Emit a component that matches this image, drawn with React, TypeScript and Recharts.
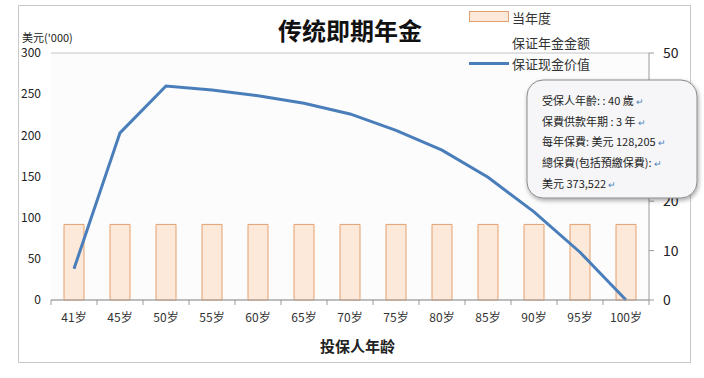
import { ComposedChart, Bar, Line, XAxis, YAxis, CartesianGrid } from 'recharts';

const ages = ['41岁', '45岁', '50岁', '55岁', '60岁', '65岁', '70岁', '75岁', '80岁', '85岁', '90岁', '95岁', '100岁'];
// 当年度保证年金金额 (right axis)
const annuity = [15.3, 15.3, 15.3, 15.3, 15.3, 15.3, 15.3, 15.3, 15.3, 15.3, 15.3, 15.3, 15.3];
// 保证现金价值, 美元('000) (left axis)
const cashValue = [38, 203, 260, 255, 248, 239, 226, 206, 182, 149, 107, 58, 0];
const leftTicks = [0, 50, 100, 150, 200, 250, 300];
const rightTicks = [0, 10, 20, 30, 40, 50];
const noteLines = ['受保人年齡: :  40 歲', '保費供款年期 : 3 年', '每年保費: 美元 128,205', '總保費(包括預繳保費):', '美元 373,522'];

const chartData = ages.map((age, i) => ({ age, annuity: annuity[i], cash: cashValue[i] }));

const FONT = '"Noto Sans CJK SC", "Liberation Sans", sans-serif';
const BAND = 598 / ages.length;

const XTick = (props: any) => {
  const { x, y, payload, index } = props;
  return (
    <g>
      <line x1={x - BAND / 2} x2={x - BAND / 2} y1={300} y2={305} stroke="#9a9a9a" />
      {index === ages.length - 1 && (
        <line x1={x + BAND / 2} x2={x + BAND / 2} y1={300} y2={305} stroke="#9a9a9a" />
      )}
      <text x={x} y={y + 14} textAnchor="middle" fontSize={12} fill="#333" fontFamily={FONT}>
        {payload.value}
      </text>
    </g>
  );
};

export default function App() {
  return (
    <div style={{ position: 'absolute', left: 0, top: 0, width: 704, height: 378, background: '#fff' }}>
      <svg width={704} height={378} style={{ position: 'absolute', left: 0, top: 0 }}>
        <rect x={18.5} y={5.5} width={672} height={357} fill="#fff" stroke="#c8c8c8" />
      </svg>
      <div style={{ position: 'absolute', left: 0, top: 0 }}>
        <ComposedChart width={704} height={378} data={chartData} margin={{ top: 53, right: 0, bottom: 48, left: 0 }} barGap={0}>
          <CartesianGrid vertical={false} stroke="#c4c4c4" fill="#fcfcfd" />
          <XAxis
            dataKey="age"
            height={30}
            axisLine={{ stroke: '#9a9a9a' }}
            tickLine={false}
            interval={0}
            tick={<XTick />}
          />
          <YAxis
            yAxisId="left"
            width={51}
            domain={[0, 300]}
            ticks={leftTicks}
            axisLine={false}
            tickLine={false}
            tickMargin={4}
            tick={{ fontSize: 12, fill: '#222', fontFamily: FONT }}
          />
          <YAxis
            yAxisId="right"
            orientation="right"
            width={55}
            domain={[0, 50]}
            ticks={rightTicks}
            axisLine={{ stroke: '#9a9a9a' }}
            tickLine={{ stroke: '#9a9a9a' }}
            tickSize={5}
            tickMargin={9}
            tick={{ fontSize: 14, fill: '#222', fontFamily: FONT, textAnchor: 'start' }}
          />
          <Bar yAxisId="right" dataKey="annuity" barSize={20} fill="#fde9d9" stroke="#e3a06e" strokeWidth={1} isAnimationActive={false} />
          <Line yAxisId="left" dataKey="cash" type="linear" stroke="#4a7ebb" strokeWidth={3} dot={false} isAnimationActive={false} />
        </ComposedChart>
      </div>
      <svg width={704} height={378} style={{ position: 'absolute', left: 0, top: 0, pointerEvents: 'none' }}>
        <defs>
          <filter id="shadow" x="-10%" y="-10%" width="130%" height="130%">
            <feDropShadow dx="1" dy="2" stdDeviation="2" floodColor="#000" floodOpacity="0.35" />
          </filter>
        </defs>
        <rect x={527} y={80} width={170} height={118} rx={16} fill="#f6f6f8" stroke="#8a8a8a" filter="url(#shadow)" />
        {noteLines.map((t, i) => (
          <text key={i} x={542} y={105 + i * 20.7} fontSize={11} fill="#222" fontFamily={FONT}>
            {t}
            <tspan fill="#4a7ebb" fontSize={9} dx={2}>↵</tspan>
          </text>
        ))}
      </svg>
      <div style={{ position: 'absolute', left: 0, top: 0, width: 704, height: 378, pointerEvents: 'none', fontFamily: FONT }}>
        <div style={{ position: 'absolute', left: 278, top: 12, fontSize: 24, fontWeight: 'bold', color: '#111' }}>传统即期年金</div>
        <div style={{ position: 'absolute', left: 22, top: 29, fontSize: 11, color: '#222' }}>美元('000)</div>
        <div style={{ position: 'absolute', left: 469, top: 11, width: 38, height: 9, background: '#fde9d9', border: '1px solid #e3a06e' }} />
        <div style={{ position: 'absolute', left: 512, top: 8, fontSize: 13, color: '#333' }}>当年度</div>
        <div style={{ position: 'absolute', left: 512, top: 33, fontSize: 13, color: '#333' }}>保证年金金额</div>
        <div style={{ position: 'absolute', left: 469, top: 62, width: 40, height: 3, background: '#4a7ebb' }} />
        <div style={{ position: 'absolute', left: 512, top: 54, fontSize: 13, color: '#333' }}>保证现金价值</div>
        <div style={{ position: 'absolute', left: 320, top: 335, fontSize: 15, fontWeight: 'bold', color: '#222' }}>投保人年龄</div>
      </div>
    </div>
  );
}
